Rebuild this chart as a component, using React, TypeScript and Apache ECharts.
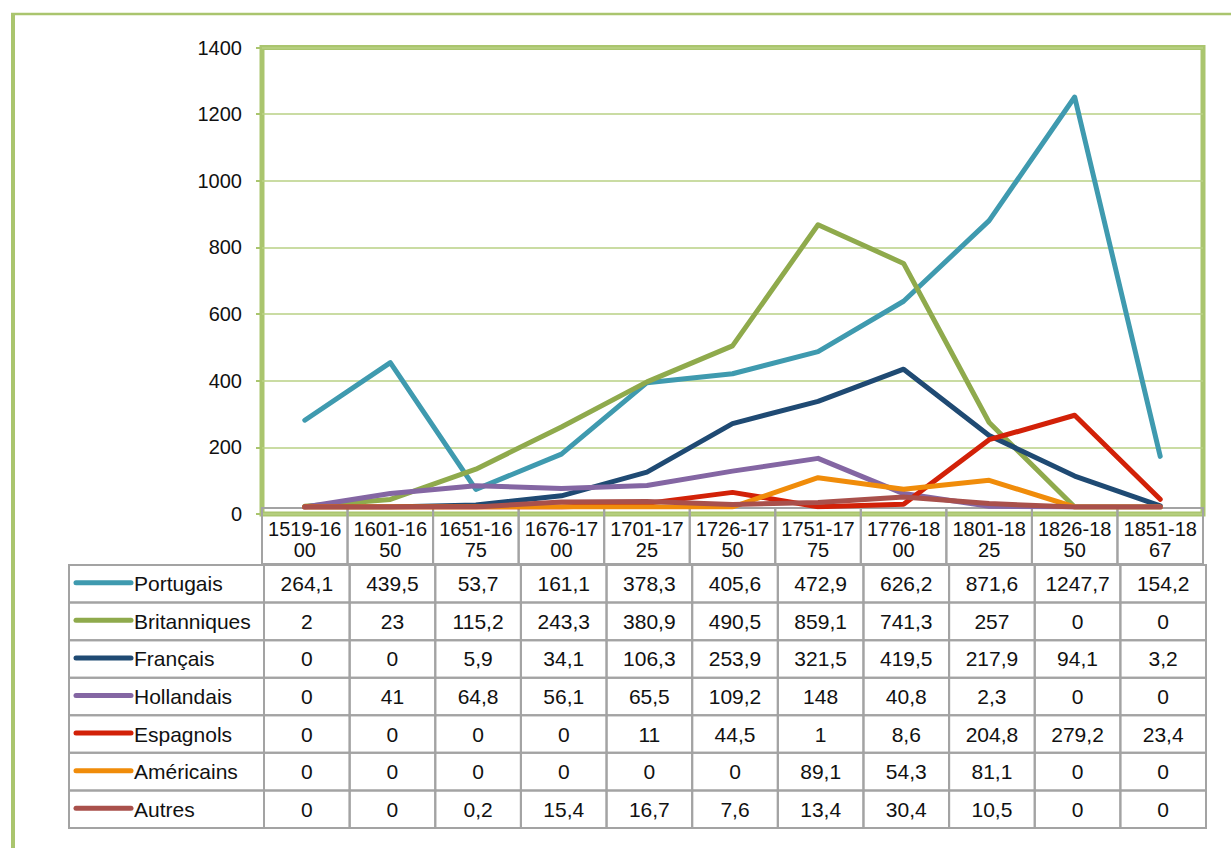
import React, { useEffect, useRef } from "react";
import * as echarts from "echarts";

const categories = ["1519-1600", "1601-1650", "1651-1675", "1676-1700", "1701-1725", "1726-1750", "1751-1775", "1776-1800", "1801-1825", "1826-1850", "1851-1867"];
const seriesNames = ["Portugais", "Britanniques", "Français", "Hollandais", "Espagnols", "Américains", "Autres"];
const portugais = [264.1, 439.5, 53.7, 161.1, 378.3, 405.6, 472.9, 626.2, 871.6, 1247.7, 154.2];
const britanniques = [2, 23, 115.2, 243.3, 380.9, 490.5, 859.1, 741.3, 257, 0, 0];
const francais = [0, 0, 5.9, 34.1, 106.3, 253.9, 321.5, 419.5, 217.9, 94.1, 3.2];
const hollandais = [0, 41, 64.8, 56.1, 65.5, 109.2, 148, 40.8, 2.3, 0, 0];
const espagnols = [0, 0, 0, 0, 11, 44.5, 1, 8.6, 204.8, 279.2, 23.4];
const americains = [0, 0, 0, 0, 0, 0, 89.1, 54.3, 81.1, 0, 0];
const autres = [0, 0, 0.2, 15.4, 16.7, 7.6, 13.4, 30.4, 10.5, 0, 0];
const seriesValues = [portugais, britanniques, francais, hollandais, espagnols, americains, autres];
const colors = ["#3F9AAF", "#8FAA4C", "#1F4A73", "#8466A3", "#D22108", "#F08C0A", "#A9504B"];

const FONT = "Liberation Sans";
const GREEN = "#AAC56E";
const GRIDGREEN = "#B9D085";
const GRAY = "#A3A3A3";

export default function App() {
  const ref = useRef<HTMLDivElement>(null);
  useEffect(() => {
    if (!ref.current) return;
    const chart = echarts.init(ref.current, undefined, { renderer: "svg" });

    const plotL = 262, plotR = 1203;
    const cw = (plotR - plotL) / categories.length;
    const dL = 264, dR = 1206;
    const dcw = (dR - dL) / categories.length;
    const rowTop = 565, rowBottom = 828;
    const rh = (rowBottom - rowTop) / seriesNames.length;

    const g: any[] = [];
    g.push({ type: "line", z: 1, shape: { x1: 13, y1: 14, x2: 13, y2: 848 }, style: { stroke: GREEN, lineWidth: 4 } });
    g.push({ type: "line", z: 1, shape: { x1: 11, y1: 14, x2: 1231, y2: 14 }, style: { stroke: GREEN, lineWidth: 2.5 } });
    for (let i = 0; i < categories.length; i++) {
      g.push({ type: "rect", z: 1, shape: { x: plotL + i * cw, y: 508, width: cw, height: 56 }, style: { fill: "none", stroke: GRAY, lineWidth: 2 } });
    }
    seriesNames.forEach((name, r) => {
      const y = rowTop + r * rh;
      const cy = y + rh / 2;
      g.push({ type: "rect", z: 1, shape: { x: 69, y, width: dL - 69, height: rh }, style: { fill: "none", stroke: GRAY, lineWidth: 2 } });
      g.push({ type: "line", z: 2, shape: { x1: 76, y1: cy - 1, x2: 131, y2: cy - 1 }, style: { stroke: colors[r], lineWidth: 5, lineCap: "round" } });
      g.push({ type: "text", z: 2, x: 134, y: cy, style: { text: name, fontSize: 21, fontFamily: FONT, fill: "#111", verticalAlign: "middle", align: "left" } });
      seriesValues[r].forEach((v, i) => {
        const x = dL + i * dcw;
        g.push({ type: "rect", z: 1, shape: { x, y, width: dcw, height: rh }, style: { fill: "none", stroke: GRAY, lineWidth: 2 } });
        g.push({ type: "text", z: 2, x: x + dcw / 2, y: cy, style: { text: String(v).replace(".", ","), fontSize: 21, fontFamily: FONT, fill: "#111", verticalAlign: "middle", align: "center" } });
      });
    });

    chart.setOption({
      animation: false,
      grid: [
        { left: plotL, right: 1231 - plotR, top: 47.5, bottom: 848 - 514, show: true, borderColor: GREEN, borderWidth: 5, backgroundColor: "transparent" },
        { left: plotL, right: 1231 - plotR, top: 47, bottom: 848 - 507, show: false },
      ],
      xAxis: [
        {
          type: "category",
          gridIndex: 0,
          data: categories,
          boundaryGap: true,
          axisLine: { show: false },
          axisTick: { show: false },
          axisLabel: {
            interval: 0,
            margin: 4,
            fontSize: 20,
            lineHeight: 21,
            fontFamily: FONT,
            color: "#111",
            formatter: (s: string) => s.slice(0, 7) + "\n" + s.slice(7),
          },
        },
        { type: "category", gridIndex: 1, data: categories, boundaryGap: true, show: false },
      ],
      yAxis: [
        {
          type: "value",
          gridIndex: 0,
          min: 0,
          max: 1400,
          interval: 200,
          axisLine: { show: false },
          axisTick: { show: true, length: 6, lineStyle: { color: GREEN, width: 2 } },
          axisLabel: { margin: 20, fontSize: 20, fontFamily: FONT, color: "#111", formatter: (v: number) => String(v) },
          splitLine: { lineStyle: { color: GRIDGREEN, width: 1.5 } },
        },
        { type: "value", gridIndex: 1, min: 0, max: 1400, show: false, splitLine: { show: false } },
      ],
      series: seriesNames.map((name, i) => ({
        name,
        type: "line",
        xAxisIndex: 1,
        yAxisIndex: 1,
        data: seriesValues[i],
        showSymbol: false,
        symbol: "none",
        lineStyle: { color: colors[i], width: 5, cap: "round", join: "round" },
        itemStyle: { color: colors[i] },
        z: 3 + i,
      })),
      graphic: g,
    });
    return () => chart.dispose();
  }, []);
  return <div ref={ref} style={{ position: "absolute", left: 0, top: 0, width: 1231, height: 848, background: "#fff" }} />;
}
